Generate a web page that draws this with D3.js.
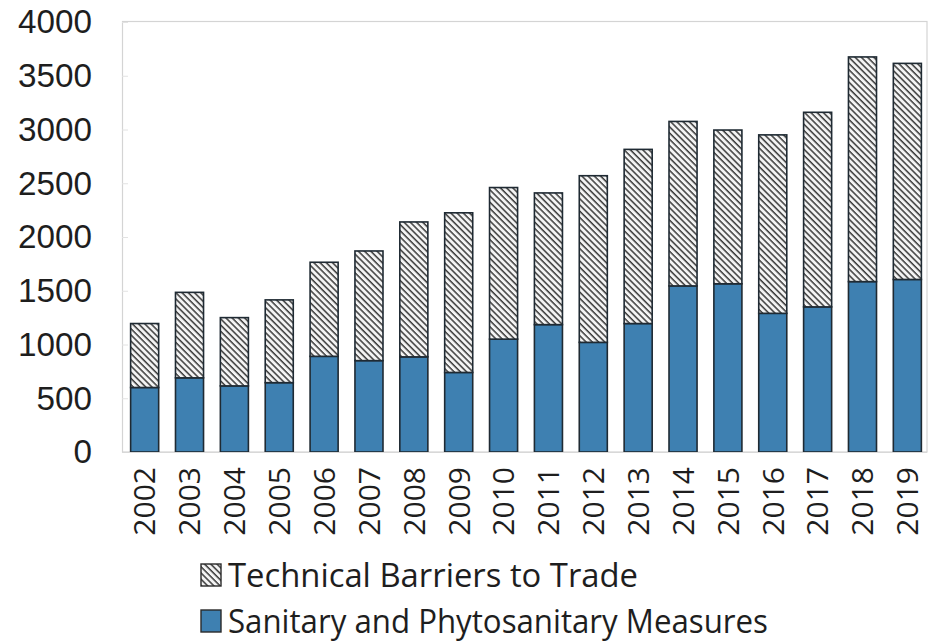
<!DOCTYPE html>
<html>
<head>
<meta charset="utf-8">
<script src="https://cdn.jsdelivr.net/npm/d3@7/dist/d3.min.js"></script>
<style>
  html, body { margin: 0; padding: 0; background: #fff; }
  svg { display: block; }
  text { font-family: "Open Sans", "Noto Sans", "DejaVu Sans", sans-serif; fill: #1e1e1e; }
</style>
</head>
<body>
<svg id="chart" width="930" height="642"></svg>
<script>
// Notifications per year, stacked: SPS at the bottom, TBT on top
const years = ["2002","2003","2004","2005","2006","2007","2008","2009","2010",
               "2011","2012","2013","2014","2015","2016","2017","2018","2019"];
const spsValues = [600, 690, 615, 645, 890, 850, 885, 740, 1050,
                   1185, 1020, 1195, 1545, 1565, 1290, 1350, 1585, 1605];
const totalValues = [1195, 1485, 1250, 1415, 1765, 1870, 2140, 2225, 2460,
                     2410, 2570, 2815, 3075, 2995, 2950, 3160, 3675, 3615];
const tbtValues = totalValues.map((t, i) => t - spsValues[i]);
const yTicks = [0, 500, 1000, 1500, 2000, 2500, 3000, 3500, 4000];
const seriesNames = ["Technical Barriers to Trade", "Sanitary and Phytosanitary Measures"];

const svg = d3.select("#chart");
const spsColor = "#3e80b1";

// hatch pattern for the TBT segment
const defs = svg.append("defs");
const pat = defs.append("pattern")
  .attr("id", "hatch")
  .attr("patternUnits", "userSpaceOnUse")
  .attr("width", 4.4).attr("height", 4.4)
  .attr("patternTransform", "rotate(-45)");
pat.append("rect").attr("width", 4.4).attr("height", 4.4).attr("fill", "#f4f4f4");
pat.append("line")
  .attr("x1", 1).attr("y1", 0).attr("x2", 1).attr("y2", 4.4)
  .attr("stroke", "#3a3a3a").attr("stroke-width", 1.5);

const x = d3.scaleBand().domain(years).range([123, 929])
  .paddingInner(0.375).paddingOuter(0.17);
const y = d3.scaleLinear().domain([0, 4000]).range([452, 22]);

// plot frame
svg.append("rect")
  .attr("x", 122.5).attr("y", 21.5)
  .attr("width", 927 - 122.5).attr("height", 452 - 21.5)
  .attr("fill", "none").attr("stroke", "#d4d4d4").attr("stroke-width", 1.2);

// y axis
const yAxis = d3.axisLeft(y).tickValues(yTicks).tickFormat(d3.format("d"))
  .tickSize(0).tickPadding(30);
const gy = svg.append("g").attr("transform", "translate(122,0)").call(yAxis);
gy.select(".domain").remove();
gy.selectAll(".tick text")
  .attr("font-size", 33).attr("fill", "#1e1e1e")
  .attr("x", -30).attr("dy", "0.33em")
  .attr("textLength", d => String(d).length * 18.5)
  .attr("lengthAdjust", "spacingAndGlyphs")
  .style("font-family", "'Liberation Sans', Arial, sans-serif");
// faint inward tick marks
gy.selectAll(".tick").append("line")
  .attr("x1", 0).attr("x2", 6)
  .attr("stroke", "#e2e2e2").attr("stroke-width", 1);

// stacked bars
const bars = svg.append("g");
bars.selectAll("rect.sps")
  .data(years)
  .join("rect")
  .attr("class", "sps")
  .attr("x", d => x(d))
  .attr("width", x.bandwidth())
  .attr("y", (d, i) => y(spsValues[i]))
  .attr("height", (d, i) => y(0) - y(spsValues[i]))
  .attr("fill", spsColor)
  .attr("stroke", "#1f2a33").attr("stroke-width", 1.6);
bars.selectAll("rect.tbt")
  .data(years)
  .join("rect")
  .attr("class", "tbt")
  .attr("x", d => x(d))
  .attr("width", x.bandwidth())
  .attr("y", (d, i) => y(totalValues[i]))
  .attr("height", (d, i) => y(spsValues[i]) - y(totalValues[i]))
  .attr("fill", "url(#hatch)")
  .attr("stroke", "#1f2a33").attr("stroke-width", 1.6);

// bottom axis line
svg.append("line")
  .attr("x1", 122).attr("x2", 927)
  .attr("y1", 452.5).attr("y2", 452.5)
  .attr("stroke", "#d8d8d8").attr("stroke-width", 1.2);

// x axis labels, rotated
const xAxis = d3.axisBottom(x).tickSize(0).tickPadding(0);
const gx = svg.append("g").attr("transform", "translate(0,452)").call(xAxis);
gx.select(".domain").remove();
gx.selectAll(".tick text")
  .attr("font-size", 30).attr("fill", "#1e1e1e")
  .attr("transform", "rotate(-90)")
  .attr("text-anchor", "end")
  .attr("x", -15).attr("y", 0).attr("dy", "0.36em")
  .style("font-family", "'Open Sans', 'Noto Sans', sans-serif");

// legend
const legend = svg.append("g");
const legendRows = [
  { name: seriesNames[0], fill: "url(#hatch)", y: 563, len: 410 },
  { name: seriesNames[1], fill: spsColor, y: 609, len: 540 }
];
legendRows.forEach(r => {
  legend.append("rect")
    .attr("x", 201).attr("y", r.y + 1)
    .attr("width", 20).attr("height", 22)
    .attr("fill", r.fill)
    .attr("stroke", "#2a2a2a").attr("stroke-width", 1.4);
  legend.append("text")
    .attr("x", 228).attr("y", r.y + 24)
    .attr("font-size", 33)
    .attr("textLength", r.len)
    .attr("lengthAdjust", "spacingAndGlyphs")
    .text(r.name);
});
</script>
</body>
</html>
